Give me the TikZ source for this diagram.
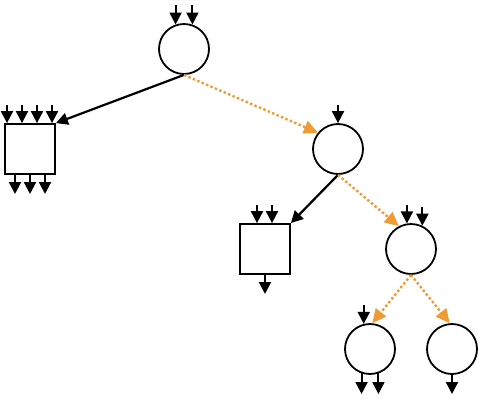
\documentclass[tikz,border=0pt]{standalone}
\usetikzlibrary{arrows.meta,calc}
\definecolor{mOrange}{RGB}{240,154,52}
\tikzset{
  opnode/.style={circle, draw, line width=1.8pt, minimum size=50pt, inner sep=0pt},
  datanode/.style={rectangle, draw, line width=1.8pt, minimum size=50pt, inner sep=0pt},
  stub/.style={-{Triangle[length=12pt,width=12pt]}, line width=2pt},
  treeln/.style={-{Triangle[length=12pt,width=12pt]}, line width=2.2pt},
  gradln/.style={-{Triangle[length=14pt,width=13pt]}, line width=2.4pt, mOrange,
    dash pattern=on 2.4pt off 2.4pt},
}
\begin{document}
\begin{tikzpicture}[x=1pt, y=-1pt]
    \useasboundingbox (0,0) rectangle (485,400);
    % --- nodes ---
    \node[opnode] (root) at (184,49) {};
    \node[datanode] (sqleft) at (30,149) {};
    \node[opnode] (circmid) at (338,149) {};
    \node[datanode] (sqmid) at (265,249) {};
    \node[opnode] (circlow) at (411,249) {};
    \node[opnode] (circll) at (370,349) {};
    \node[opnode] (circlr) at (452,349) {};
    % --- tree edges ---
    \draw[treeln] (root.south) -- (sqleft.north east);
    \draw[gradln] (root.south) -- (circmid.141);
    \draw[treeln] (circmid.south) -- (sqmid.north east);
    \draw[gradln] (circmid.south) -- (circlow.118);
    \draw[gradln] (circlow.south) -- (circll.85);
    \draw[gradln] (circlow.south) -- (circlr.95);
    % --- input and output stubs ---
    \draw[stub] (root.109 |- 0,5) -- (root.109);
    \draw[stub] (root.71 |- 0,5) -- (root.71);
    \foreach \xo in {7,22,37,52}
      \draw[stub] (\xo,105) -- (\xo,0 |- sqleft.north);
    \foreach \xo in {15,30,45}
      \draw[stub] (\xo,0 |- sqleft.south) -- (\xo,194);
    \draw[stub] (circmid.north |- 0,105) -- (circmid.north);
    \draw[stub] (257,205) -- (257,0 |- sqmid.north);
    \draw[stub] (272,205) -- (272,0 |- sqmid.north);
    \draw[stub] (sqmid.south) -- (265,294);
    \draw[stub] (circlow.99 |- 0,205) -- (circlow.99);
    \draw[stub] (circlow.64 |- 0,207) -- (circlow.64);
    \draw[stub] (circll.104 |- 0,305) -- (circll.104);
    \draw[stub] (circll.-109) -- (circll.-109 |- 0,394);
    \draw[stub] (circll.-71) -- (circll.-71 |- 0,394);
    \draw[stub] (circlr.south) -- (circlr.south |- 0,394);
\end{tikzpicture}
\end{document}
